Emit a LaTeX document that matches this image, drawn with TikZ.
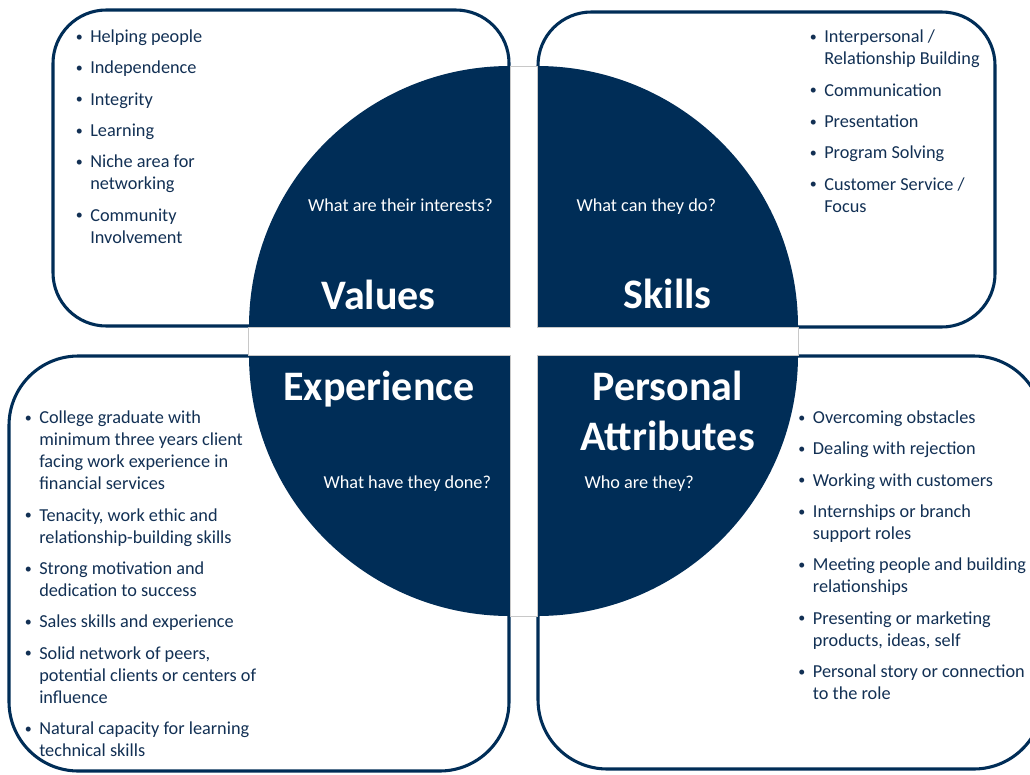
\documentclass[tikz,border=0pt]{standalone}
\usepackage{fontspec}
\setmainfont{Carlito}
\usepackage{xcolor}
\usepackage{tikz}

\definecolor{navy}{RGB}{0,45,87}
\definecolor{bodytext}{RGB}{18,48,84}
\definecolor{gapline}{RGB}{200,200,200}

\newcommand{\bul}{\llap{\makebox[16.5pt]{\raisebox{1pt}{\fontsize{10.5pt}{12pt}\selectfont\textbullet}}}}

\begin{document}
\begin{tikzpicture}[x=0.75pt, y=-0.75pt,
  panel/.style={draw=navy, line width=2.3pt, fill=white},
  quarter/.style={fill=navy},
  bullets/.style={anchor=base west, inner sep=0pt, align=left, text=bodytext,
    font=\fontsize{13.7pt}{16.5pt}\selectfont},
  heading/.style={anchor=base, inner sep=0pt, text=white,
    font=\fontsize{31.5pt}{38pt}\selectfont\bfseries},
  question/.style={anchor=base, inner sep=0pt, text=white,
    font=\fontsize{13.7pt}{16.5pt}\selectfont}]
  \useasboundingbox (0,0) rectangle (1030,774);

  \draw[panel, rounded corners=40pt] (53,10) rectangle (509,326);
  \draw[panel, rounded corners=40pt] (538,12) rectangle (995,327);
  \draw[panel, rounded corners=52pt] (9,356) rectangle (509,771);
  \draw[panel, rounded corners=52pt] (538,356) rectangle (1043,769);

  \foreach \cx/\cy/\a in {510/327/180, 537/327/270, 510/355/90, 537/355/0}
    \fill[quarter] (\cx,\cy) -- ++(\a:261) arc[start angle=\a, delta angle=90, radius=261] -- cycle;

  \draw[gapline, fill=white, line width=0.6pt] (510,66) -- (537,66) -- (537,327) -- (798,327)
    -- (798,355) -- (537,355) -- (537,616) -- (510,616) -- (510,355) -- (248,355)
    -- (248,327) -- (510,327) -- cycle;

  \node[heading] (values) at (378.7,309) {Values};
  \node[heading] (skills) at (667.8,308.5) {Skills};
  \node[heading] (experience) at (378.8,400.5) {Experience};
  \node[heading, align=center] (attributes) at (667.7,450.7) {Personal\\Attributes};

  \node[question] (q values) at (400.5,211) {What are their interests?};
  \node[question] (q skills) at (646.3,211) {What can they do?};
  \node[question] (q experience) at (407.3,488) {What have they done?};
  \node[question] (q attributes) at (639.2,488) {Who are they?};

  % lists sit on the baseline of their last line
  \node[bullets] (values list) at (90,243.3) {\bul Helping people\\[7pt]
    \bul Independence\\[7pt]
    \bul Integrity\\[7pt]
    \bul Learning\\[7pt]
    \bul Niche area for\\networking\\[7pt]
    \bul Community\\Involvement};
  \node[bullets] (skills list) at (824,212) {\bul Interpersonal /\\Relationship Building\\[7pt]
    \bul Communication\\[7pt]
    \bul Presentation\\[7pt]
    \bul Program Solving\\[7pt]
    \bul Customer Service /\\Focus};
  \node[bullets] (experience list) at (39,756.5) {\bul College graduate with\\minimum three years client\\facing work experience in\\financial services\\[7pt]
    \bul Tenacity, work ethic and\\relationship-building skills\\[7pt]
    \bul Strong motivation and\\dedication to success\\[7pt]
    \bul Sales skills and experience\\[7pt]
    \bul Solid network of peers,\\potential clients or centers of\\influence\\[7pt]
    \bul Natural capacity for learning\\technical skills};
  \node[bullets] (attributes list) at (812.7,699.5) {\bul Overcoming obstacles\\[7pt]
    \bul Dealing with rejection\\[7pt]
    \bul Working with customers\\[7pt]
    \bul Internships or branch\\support roles\\[7pt]
    \bul Meeting people and building\\relationships\\[7pt]
    \bul Presenting or marketing\\products, ideas, self\\[7pt]
    \bul Personal story or connection\\to the role};
\end{tikzpicture}
\end{document}
